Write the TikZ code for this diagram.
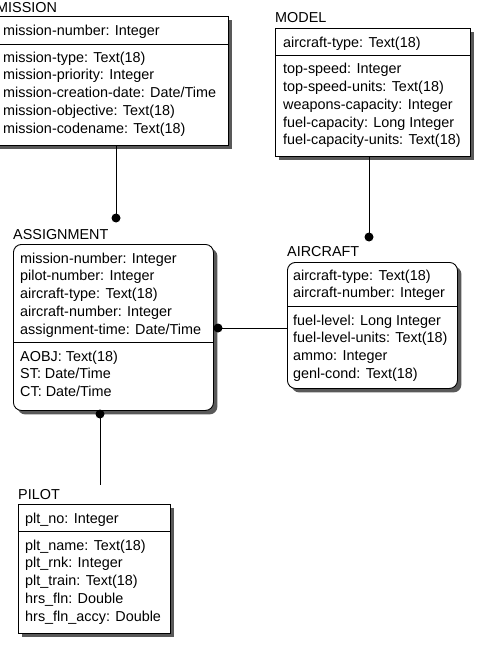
\documentclass[tikz,border=0pt]{standalone}
\usepackage{fontspec}
\setmainfont{Liberation Sans}
\usetikzlibrary{shadows}
\begin{document}
\begin{tikzpicture}[x=1pt,y=-1pt,
  ent/.style={draw=black, line width=0.9pt, fill=white, anchor=north west, inner sep=0pt,
    drop shadow={shadow xshift=4pt, shadow yshift=-4pt, fill=black!65, opacity=1}},
  rent/.style={ent, rounded corners=8pt},
  txt/.style={anchor=north west, inner sep=0pt, align=left, font=\fontsize{14.4}{17.8}\selectfont},
  ttl/.style={anchor=west, inner sep=0pt, font=\fontsize{14.4}{17.8}\selectfont},
  sep/.style={line width=0.9pt},
  conn/.style={line width=0.9pt},
  dot/.style={circle, fill=black, inner sep=0pt, minimum size=9pt}
]
\useasboundingbox (0,0) rectangle (489,668);

% MISSION
\node[ent, minimum width=232pt, minimum height=129pt] (mission) at (-4,16) {};
\node[ttl] (missiont) at (-4,8) {MISSION};
\draw[sep] (mission.west |- 0,44) -- (mission.east |- 0,44);
\node[txt] (missionk) at (3,22.5) {\strut mission-number: Integer};
\node[txt] (missiona) at (3,49.5) {\strut mission-type: Text(18)\\mission-priority: Integer\\mission-creation-date: Date/Time\\mission-objective: Text(18)\\mission-codename: Text(18)};

% MODEL
\node[ent, minimum width=195pt, minimum height=128pt] (model) at (275,28) {};
\node[ttl] (modelt) at (275,18) {MODEL};
\draw[sep] (model.west |- 0,55) -- (model.east |- 0,55);
\node[txt] (modelk) at (283,35.2) {\strut aircraft-type: Text(18)};
\node[txt] (modela) at (283,61) {\strut top-speed: Integer\\top-speed-units: Text(18)\\weapons-capacity: Integer\\fuel-capacity: Long Integer\\fuel-capacity-units: Text(18)};

% ASSIGNMENT
\node[rent, minimum width=200pt, minimum height=166pt] (assign) at (13,244) {};
\node[ttl] (assignt) at (13,235) {ASSIGNMENT};
\draw[sep] (assign.west |- 0,342) -- (assign.east |- 0,342);
\node[txt] (assignk) at (20,250.5) {\strut mission-number: Integer\\pilot-number: Integer\\aircraft-type: Text(18)\\aircraft-number: Integer\\assignment-time: Date/Time};
\node[txt] (assigna) at (20,348.5) {\strut AOBJ: Text(18)\\ST: Date/Time\\CT: Date/Time};

% AIRCRAFT
\node[rent, minimum width=170pt, minimum height=126pt] (aircraft) at (287,262) {};
\node[ttl] (aircraftt) at (287,252) {AIRCRAFT};
\draw[sep] (aircraft.west |- 0,306) -- (aircraft.east |- 0,306);
\node[txt] (aircraftk) at (293,267.5) {\strut aircraft-type: Text(18)\\aircraft-number: Integer};
\node[txt] (aircrafta) at (293,312.5) {\strut fuel-level: Long Integer\\fuel-level-units: Text(18)\\ammo: Integer\\genl-cond: Text(18)};

% PILOT
\node[ent, minimum width=152pt, minimum height=129pt] (pilot) at (18,504) {};
\node[ttl] (pilott) at (18,495) {PILOT};
\draw[sep] (pilot.west |- 0,531) -- (pilot.east |- 0,531);
\node[txt] (pilotk) at (25,510.5) {\strut plt\_no: Integer};
\node[txt] (pilota) at (25,537.5) {\strut plt\_name: Text(18)\\plt\_rnk: Integer\\plt\_train: Text(18)\\hrs\_fln: Double\\hrs\_fln\_accy: Double};

% connectors
\node[dot] (d1) at (116,218) {};
\node[dot] (d2) at (369,237) {};
\node[dot] (d3) at (218,328) {};
\node[dot] (d4) at (100,414) {};
\coordinate (pend) at (100,485);
\draw[conn] (mission.south -| d1) -- (d1.center);
\draw[conn] (model.south -| d2) -- (d2.center);
\draw[conn] (d3.center) -- (aircraft.west |- d3);
\draw[conn] (d4.center) -- (pend);
\end{tikzpicture}
\end{document}
